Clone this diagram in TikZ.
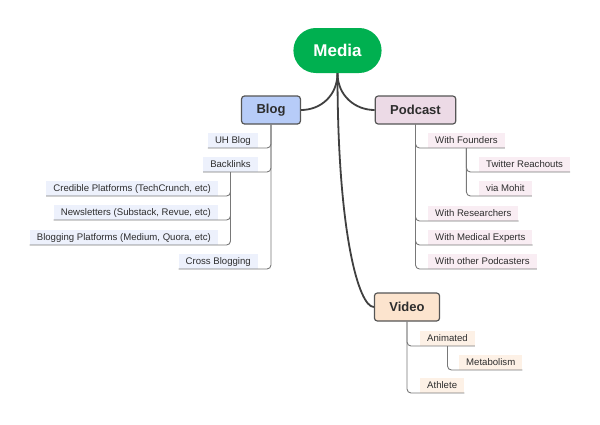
\documentclass[tikz,border=0pt]{standalone}
\usepackage{fontspec}
\setmainfont{Liberation Sans}
\definecolor{mediagreen}{RGB}{0,176,80}
\definecolor{blogblue}{RGB}{183,204,248}
\definecolor{podpink}{RGB}{236,218,230}
\definecolor{videopeach}{RGB}{252,228,206}
\definecolor{blogleaf}{RGB}{237,241,252}
\definecolor{podleaf}{RGB}{249,237,243}
\definecolor{videoleaf}{RGB}{253,241,230}
\definecolor{boxline}{RGB}{85,85,85}
\definecolor{branchline}{RGB}{64,64,64}
\definecolor{twigline}{RGB}{120,120,120}
\definecolor{labeltext}{RGB}{45,45,45}
\begin{document}
\begin{tikzpicture}[x=1pt,y=-1pt,
  topic/.style={draw=boxline,line width=1.2pt,rounded corners=3pt,minimum height=28pt,inner xsep=15pt,text=labeltext,font=\fontsize{13}{13}\selectfont\bfseries},
  leaf/.style={inner xsep=7pt,inner ysep=0pt,minimum height=14.5pt,text=labeltext,font=\fontsize{9.6}{10}\selectfont},
  branch/.style={draw=branchline,line width=1.8pt},
  twig/.style={draw=twigline,line width=0.9pt,rounded corners=4pt}]
\useasboundingbox (0,0) rectangle (600,424);
% central topic
\node[fill=mediagreen,rounded corners=22.5pt,minimum height=45pt,inner xsep=20pt,text=white,font=\fontsize{17}{17}\selectfont\bfseries] (media) at (337.5,50.5) {Media};
% main topics
\node[topic,fill=blogblue] (blog) at (271,110) {Blog};
\node[topic,fill=podpink] (podcast) at (415.5,110) {Podcast};
\node[topic,fill=videopeach] (video) at (407,307) {Video};
\draw[branch] (media.south) .. controls +(0,22) and +(20,0) .. (blog.east);
\draw[branch] (media.south) .. controls +(0,22) and +(-20,0) .. (podcast.west);
\draw[branch] (media.south) .. controls +(0,160) and +(-15,0) .. (video.west);
% blog
\node[leaf,fill=blogleaf,anchor=south east] (uhblog) at (258,148) {UH Blog};
\node[leaf,fill=blogleaf,anchor=south east] (backlinks) at (258,172) {Backlinks};
\node[leaf,fill=blogleaf,anchor=south east] (credible) at (218,196) {Credible Platforms (TechCrunch, etc)};
\node[leaf,fill=blogleaf,anchor=south east] (newsletters) at (218,220) {Newsletters (Substack, Revue, etc)};
\node[leaf,fill=blogleaf,anchor=south east] (blogging) at (218,245) {Blogging Platforms (Medium, Quora, etc)};
\node[leaf,fill=blogleaf,anchor=south east] (cross) at (258,269) {Cross Blogging};
\foreach \n in {uhblog,backlinks,cross}
  \draw[twig] (blog.south) |- (\n.south west);
\foreach \n in {credible,newsletters,blogging}
  \draw[twig] (backlinks.south) |- (\n.south west);
% podcast
\node[leaf,fill=podleaf,anchor=south west] (founders) at (428,148) {With Founders};
\node[leaf,fill=podleaf,anchor=south west] (twitter) at (479,172) {Twitter Reachouts};
\node[leaf,fill=podleaf,anchor=south west] (mohit) at (479,196) {via Mohit};
\node[leaf,fill=podleaf,anchor=south west] (researchers) at (428,221) {With Researchers};
\node[leaf,fill=podleaf,anchor=south west] (medical) at (428,245) {With Medical Experts};
\node[leaf,fill=podleaf,anchor=south west] (others) at (428,269) {With other Podcasters};
\foreach \n in {founders,researchers,medical,others}
  \draw[twig] (podcast.south) |- (\n.south east);
\foreach \n in {twitter,mohit}
  \draw[twig] (founders.south) |- (\n.south east);
% video
\node[leaf,fill=videoleaf,anchor=south west] (animated) at (420,346) {Animated};
\node[leaf,fill=videoleaf,anchor=south west] (metabolism) at (459,370) {Metabolism};
\node[leaf,fill=videoleaf,anchor=south west] (athlete) at (420,393) {Athlete};
\foreach \n in {animated,athlete}
  \draw[twig] (video.south) |- (\n.south east);
\draw[twig] (animated.south) |- (metabolism.south east);
\end{tikzpicture}
\end{document}
